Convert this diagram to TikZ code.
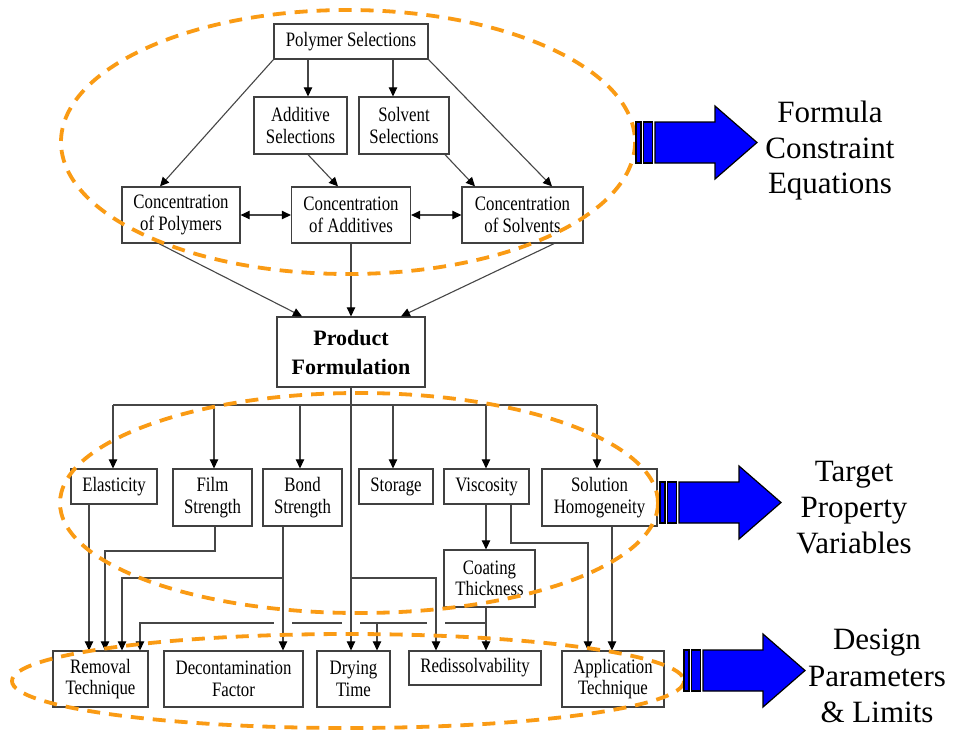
\documentclass[tikz,border=0pt]{standalone}
\usepackage{fontspec}
\setmainfont{Liberation Serif}
\newfontfamily\boxfont[FakeStretch=0.82]{Liberation Serif}
\usetikzlibrary{arrows.meta,calc}
\definecolor{ringorange}{RGB}{250,155,20}
\definecolor{linegray}{RGB}{70,70,70}
\begin{document}
\begin{tikzpicture}[x=1pt,y=-1pt,
  box/.style={draw=black!75, line width=1.3pt, fill=white, inner sep=0pt, align=center,
              font=\boxfont\fontsize{20.5}{21.5}\selectfont},
  conn/.style={draw=linegray, line width=1.1pt},
  arr/.style={conn, -{Triangle[length=9pt,width=8.5pt,color=black]}},
  dbl/.style={conn, {Triangle[length=9pt,width=8.5pt,color=black]}-{Triangle[length=9pt,width=8.5pt,color=black]}},
  ring/.style={draw=ringorange, line width=3.8pt, dash pattern=on 13pt off 9pt},
  gap/.style={draw=white, line width=3pt},
  sidelabel/.style={align=center, inner sep=0pt, font=\fontsize{31}{36}\selectfont},
  bigarrow/.pic={
    \draw[fill=blue, draw=black, line width=1.2pt]
      (0,-20.5) rectangle (5,20.5) (7.5,-20.5) rectangle (16.5,20.5);
    \draw[fill=blue, draw=black, line width=1.2pt]
      (19,-20.5) -- (79,-20.5) -- (79,-36.5) -- (121,0) -- (79,36.5) -- (79,20.5) -- (19,20.5) -- cycle;
  }
]
\useasboundingbox (0,0) rectangle (953,732);
\fill[white] (0,0) rectangle (953,732);

% ---- selection / concentration layer
\node[box, minimum width=154pt, minimum height=35pt] (ps) at (351,41.5) {Polymer Selections};
\node[box, minimum width=93pt,  minimum height=57pt] (as) at (300.5,125.5) {Additive\\Selections};
\node[box, minimum width=90pt,  minimum height=57pt] (ss) at (404,125.5) {Solvent\\Selections};
\node[box, minimum width=118pt, minimum height=56pt] (cp) at (181,215) {Concentration\\of Polymers};
\node[box, minimum width=119pt, minimum height=56pt] (ca) at (351,215) {Concentration\\of Additives};
\node[box, minimum width=121pt, minimum height=56pt] (cs) at (522.5,215) {Concentration\\of Solvents};

% ---- product formulation
\node[box, minimum width=148pt, minimum height=70pt, font=\fontsize{22}{29}\selectfont\bfseries] (pf) at (351,352) {Product\\Formulation};

% ---- target properties
\node[box, minimum width=86pt,  minimum height=35pt] (el) at (114,486.5) {Elasticity};
\node[box, minimum width=79pt,  minimum height=57pt] (fs) at (212.5,497.5) {Film\\Strength};
\node[box, minimum width=79pt,  minimum height=57pt] (bs) at (302.5,497.5) {Bond\\Strength};
\node[box, minimum width=74pt,  minimum height=35pt] (st) at (396,486.5) {Storage};
\node[box, minimum width=85pt,  minimum height=35pt] (vi) at (486.5,486.5) {Viscosity};
\node[box, minimum width=115pt, minimum height=57pt] (sh) at (599.5,497.5) {Solution\\Homogeneity};
\node[box, minimum width=91pt,  minimum height=57pt] (ct) at (489.5,578.5) {Coating\\Thickness};

% ---- design parameters
\node[box, minimum width=95pt,  minimum height=56pt] (rt) at (100.5,679) {Removal\\Technique};
\node[box, minimum width=139pt, minimum height=56pt] (df) at (233.5,679) {Decontamination\\Factor};
\node[box, minimum width=73pt,  minimum height=56pt] (dt) at (353.5,679) {Drying\\Time};
\node[box, minimum width=132pt, minimum height=34pt] (rd) at (475,668) {Redissolvability};
\node[box, minimum width=102pt, minimum height=56pt] (at) at (613,679) {Application\\Technique};

% ---- routing columns and rows
\foreach \c in {89,105,113,122,140,159,160,214,215,283,300,302,308,338,377,393,401,436,445,475,486,511,552,554,588,597,612}
  \coordinate (k\c) at (\c,0);
\foreach \r in {543,551,578,623}
  \coordinate (r\r) at (0,\r);
\coordinate (bus) at (351,405);

% ---- connectors, upper part
\draw[arr] (ps.south -| k308) -- (as.north -| k308);
\draw[arr] (ps.south -| k393) -- (ss.north -| k393);
\draw[arr] (ps.south west) -- (cp.north -| k160);
\draw[arr] (ps.south east) -- (cs.north -| k552);
\draw[arr] (as.south -| k308) -- (ca.north -| k338);
\draw[arr] (ss.south -| k445) -- (cs.north -| k475);
\draw[dbl] (cp.east) -- (ca.west);
\draw[dbl] (ca.east) -- (cs.west);
\draw[arr] (cp.south -| k159) -- (pf.north -| k302);
\draw[arr] (ca.south) -- (pf.north);
\draw[arr] (cs.south -| k554) -- (pf.north -| k401);

% ---- distribution to the target properties
\draw[conn] (bus -| k113) -- (bus -| k597);
\draw[arr] (bus -| k113) -- (el.north -| k113);
\draw[arr] (bus -| k214) -- (fs.north -| k214);
\draw[arr] (bus -| k300) -- (bs.north -| k300);
\draw[arr] (bus -| k393) -- (st.north -| k393);
\draw[arr] (bus -| k486) -- (vi.north -| k486);
\draw[arr] (bus -| k597) -- (sh.north -| k597);

% ---- coating thickness feed, broken where other lines cross it
\draw[arr] (k486 |- r623) -| (rt.north -| k140);
\draw[gap] ($(k283 |- r623)+(-9,0)$) -- ($(k283 |- r623)+(9,0)$);
\draw[gap] ($(pf.south |- r623)+(-9,0)$) -- ($(pf.south |- r623)+(9,0)$);
\draw[gap] ($(k436 |- r623)+(-9,0)$) -- ($(k436 |- r623)+(9,0)$);
\draw[arr] (ct.south -| k486) -- (rd.north -| k486);
\draw[arr] (k377 |- r623) -- (dt.north -| k377);

% ---- connectors, lower part
\draw[arr] (el.south -| k89) -- (rt.north -| k89);
\draw[arr] (fs.south -| k215) -- (k215 |- r551) -| (rt.north -| k105);
\draw[arr] (bs.south -| k283) -- (df.north -| k283);
\draw[arr] (k283 |- r578) -| (rt.north -| k122);
\draw[arr] (pf.south) -- (dt.north -| pf.south);
\draw[arr] (pf.south |- r578) -| (rd.north -| k436);
\draw[arr] (vi.south -| k486) -- (ct.north -| k486);
\draw[arr] (vi.south -| k511) -- (k511 |- r543) -| (at.north -| k588);
\draw[arr] (sh.south -| k612) -- (at.north -| k612);

% ---- groupings
\draw[ring] (348,142) ellipse [x radius=287, y radius=132];
\draw[ring] (359,503) ellipse [x radius=299, y radius=110];
\draw[ring] (348,681) ellipse [x radius=336, y radius=47];

% ---- block arrows and their labels
\pic at (636,142.5) {bigarrow};
\pic at (660,502.5) {bigarrow};
\pic at (684,670.5) {bigarrow};

\node[sidelabel, font=\fontsize{31}{35.5}\selectfont] (lab1) at (830,151) {Formula\\Constraint\\Equations};
\node[sidelabel] (lab2) at (854,508) {Target\\Property\\Variables};
\node[sidelabel, font=\fontsize{31}{36.5}\selectfont] (lab3) at (877,676) {Design\\Parameters\\\& Limits};
\end{tikzpicture}
\end{document}
